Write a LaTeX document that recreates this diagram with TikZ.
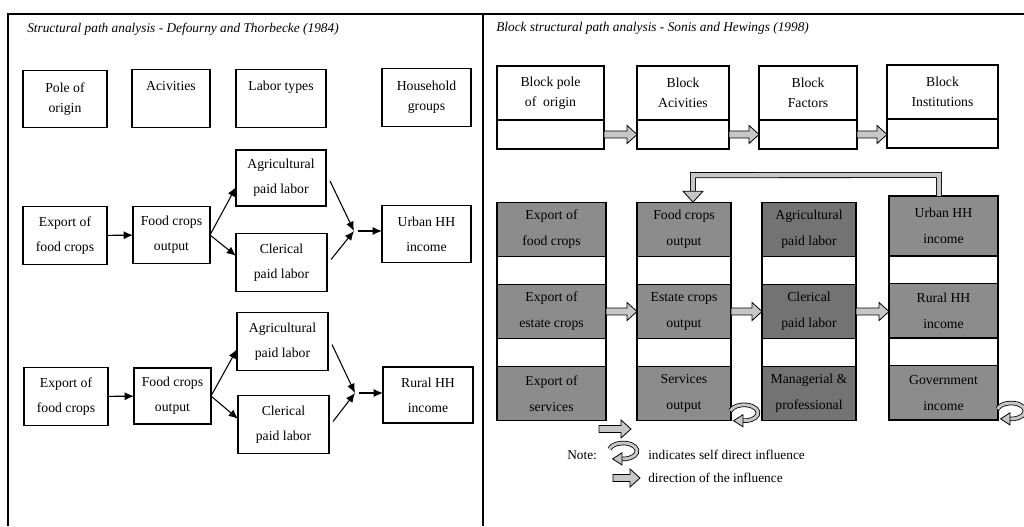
\documentclass[tikz,border=0pt]{standalone}
\usepackage{fontspec}
\setmainfont{Liberation Serif}
\usetikzlibrary{arrows.meta,positioning,calc}

\colorlet{cellgray}{black!45}
\colorlet{celldark}{black!55}
\colorlet{arrowgray}{black!22}

% hollow block arrow, left to right
\newcommand\blockarrow[2]{%
  \filldraw[hollow] let \p1=(#1), \p2=(#2) in
    (\x1,\y1+2.6pt) -- (\x2-7.5pt,\y1+2.6pt) -- (\x2-7.5pt,\y1+6.8pt) -- (\x2,\y1)
    -- (\x2-7.5pt,\y1-6.8pt) -- (\x2-7.5pt,\y1-2.6pt) -- (\x1,\y1-2.6pt) -- cycle;}
% self influence loop round a point
\newcommand\loopmark[1]{%
  \draw[hollowline] ($(#1)+(165:10.5pt and 6pt)$) arc[start angle=165, end angle=-100, x radius=10.5pt, y radius=6pt];
  \filldraw[hollow] ($(#1)+(-100:10.5pt and 6pt)+(1pt,4.5pt)$) -- ++(0,-9pt) -- ++(-7pt,4.5pt) -- cycle;}

\begin{document}
\begin{tikzpicture}[x=0.75pt, y=-0.75pt,
    box/.style={draw, line width=0.8pt, align=center, inner sep=0pt, outer sep=0pt,
      minimum height=43pt, font=\fontsize{10.3}{19}\selectfont},
    hbox/.style={box, font=\fontsize{10.3}{15}\selectfont},
    arr/.style={line width=0.8pt, -{Latex[length=7pt,width=6pt]}},
    blk/.style={draw, line width=0.8pt, align=center, inner sep=0pt, outer sep=0pt,
      minimum height=40.5pt, font=\fontsize{10.3}{15}\selectfont},
    blklow/.style={draw, line width=0.8pt, inner sep=0pt, outer sep=0pt, minimum height=21.75pt},
    cell/.style={draw, line width=0.8pt, fill=cellgray, align=center, inner sep=0pt, outer sep=0pt,
      minimum height=41pt, font=\fontsize{10.3}{19.5}\selectfont},
    gapcell/.style={draw, line width=0.8pt, fill=white, inner sep=0pt, outer sep=0pt, minimum height=20.5pt},
    hollow/.style={fill=arrowgray, draw, line width=0.6pt, line join=miter},
    hollowline/.style={draw, line width=0.6pt, double=arrowgray, double distance=2.2pt},
    fbline/.style={draw, line width=0.6pt, double=arrowgray, double distance=3.2pt, line join=miter},
    frame/.style={line width=0.9pt}]
  \useasboundingbox (0,0) rectangle (1024,526);

  % frame
  \draw[frame] (8,526) -- (8,14) -- (1024,14);
  \draw[frame] (483,14) -- (483,526);

  % left: structural path analysis
  \node[anchor=west, inner sep=0pt, font=\itshape] (ltitle) at (27,29) {Structural path analysis - Defourny and Thorbecke (1984)};

  \node[hbox, minimum width=63pt] (pole) at (65,99) {Pole of\\origin};
  \node[hbox, minimum width=58.5pt] (acti) at (171,98.5) {Acivities\\\strut};
  \node[hbox, minimum width=67.5pt] (labt) at (281,98.5) {Labor types\\\strut};
  \node[hbox, minimum width=66.75pt] (hhg) at (426.5,97.5) {Household\\groups};

  \node[box, minimum width=63pt] (exp1) at (65,235.5) {Export of\\food crops};
  \node[box, minimum width=57.75pt] (food1) at (171.5,235) {Food crops\\output};
  \node[box, minimum width=67.5pt, minimum height=42pt] (agri1) at (281,178) {Agricultural\\paid labor};
  \node[box, minimum width=68.25pt] (cler1) at (281.5,262.5) {Clerical\\paid labor};
  \node[box, minimum width=66.75pt] (urb) at (426.5,234) {Urban HH\\income};
  \coordinate (mg1) at (354,231);

  \node[box, minimum width=68.25pt] (agri2) at (282.5,341.5) {Agricultural\\paid labor};
  \node[box, minimum width=63pt] (exp2) at (66,396.5) {Export of\\food crops};
  \node[box, minimum width=57.75pt, minimum height=42pt] (food2) at (172.5,396) {Food crops\\output};
  \node[box, minimum width=68.25pt] (cler2) at (283.5,424.5) {Clerical\\paid labor};
  \node[box, minimum width=67.5pt, minimum height=42pt] (rur) at (428,395) {Rural HH\\income};
  \coordinate (mg2) at (355,393);

  \draw[arr] (exp1) -- (food1);
  \draw[arr] (food1.east) -- ($(agri1.south west)+(0,-19)$);
  \draw[arr] (food1.east) -- ($(cler1.north west)+(0,22)$);
  \draw[arr] ($(agri1.east)+(4,3)$) -- (mg1);
  \draw[arr] ($(cler1.east)+(4,-3)$) -- (mg1);
  \draw[arr] ($(mg1)+(4,0)$) -- (mg1 -| urb.west);

  \draw[arr] (exp2) -- (food2);
  \draw[arr] (food2.east) -- ($(agri2.south west)+(0,-21)$);
  \draw[arr] (food2.east) -- ($(cler2.north west)+(0,23)$);
  \draw[arr] ($(agri2.east)+(4,3)$) -- (mg2);
  \draw[arr] ($(cler2.east)+(4,-3)$) -- (mg2);
  \draw[arr] ($(mg2)+(4,0)$) -- (mg2 -| rur.west);

  % right: block structural path analysis
  \node[anchor=west, inner sep=0pt, font=\itshape] (rtitle) at (496,28) {Block structural path analysis - Sonis and Hewings (1998)};

  \node[blk, minimum width=80.25pt] (bpo) at (550.5,93) {Block pole\\of\ \ origin};
  \node[blklow, minimum width=80.25pt, below=0pt of bpo] (bpo2) {};
  \node[blk, minimum width=69pt] (bac) at (683,93) {Block\\Acivities};
  \node[blklow, minimum width=69pt, below=0pt of bac] (bac2) {};
  \node[blk, minimum width=73.5pt] (bfa) at (808,93) {Block\\Factors};
  \node[blklow, minimum width=73.5pt, below=0pt of bfa] (bfa2) {};
  \node[blk, minimum width=83.25pt] (bin) at (942.5,92) {Block\\Institutions};
  \node[blklow, minimum width=83.25pt, below=0pt of bin] (bin2) {};

  \blockarrow{bpo2.east}{bac2.west}
  \blockarrow{bac2.east}{bfa2.west}
  \blockarrow{bfa2.east}{bin2.west}

  % column 1
  \node[cell, minimum width=81.75pt] (efood) at (551.5,229.5) {Export of\\food crops};
  \node[gapcell, minimum width=81.75pt, below=0pt of efood] (egap1) {};
  \node[cell, minimum width=81.75pt, below=0pt of egap1] (eestate) {Export of\\estate crops};
  \node[gapcell, minimum width=81.75pt, below=0pt of eestate] (egap2) {};
  \node[cell, minimum width=81.75pt, below=0pt of egap2] (eserv) {Export of\\services};
  % column 2
  \node[cell, minimum width=70.5pt] (ofood) at (684,229.5) {Food crops\\output};
  \node[gapcell, minimum width=70.5pt, below=0pt of ofood] (ogap1) {};
  \node[cell, minimum width=70.5pt, below=0pt of ogap1] (oestate) {Estate crops\\output};
  \node[gapcell, minimum width=70.5pt, below=0pt of oestate] (ogap2) {};
  \node[cell, minimum width=70.5pt, below=0pt of ogap2] (oserv) {Services\\output};
  % column 3
  \node[cell, fill=celldark, minimum width=70.5pt] (fagri) at (809,229.5) {Agricultural\\paid labor};
  \node[gapcell, minimum width=70.5pt, below=0pt of fagri] (fgap1) {};
  \node[cell, fill=celldark, minimum width=70.5pt, below=0pt of fgap1] (fcler) {Clerical\\paid labor};
  \node[gapcell, minimum width=70.5pt, below=0pt of fcler] (fgap2) {};
  \node[cell, fill=celldark, minimum width=70.5pt, below=0pt of fgap2] (fman) {Managerial \&\\professional};
  % column 4
  \node[cell, minimum width=81.75pt, minimum height=45pt] (iurb) at (943.5,226) {Urban HH\\income};
  \node[gapcell, minimum width=81.75pt, below=0pt of iurb] (igap1) {};
  \node[cell, minimum width=81.75pt, below=0pt of igap1] (irur) {Rural HH\\income};
  \node[gapcell, minimum width=81.75pt, below=0pt of irur] (igap2) {};
  \node[cell, minimum width=81.75pt, below=0pt of igap2] (igov) {Government\\income};

  \blockarrow{eestate.east}{oestate.west}
  \blockarrow{oestate.east}{fcler.west}
  \blockarrow{fcler.east}{irur.west}

  % feedback from institutions to activities
  \coordinate (fbR) at ($(iurb.north)+(-4.5,-21)$);
  \coordinate (fbL) at ($(ofood.north)+(9,-27)$);
  \coordinate (fbD) at ($(ofood.north)+(9,-11)$);
  \draw[fbline] ($(iurb.north)+(-4.5,0)$) -- (fbR) -- (fbL) -- (fbD);
  \filldraw[hollow] ($(fbD)+(-10,0)$) -- ($(fbD)+(10,0)$) -- ($(ofood.north)+(9,0)$) -- cycle;

  % self loops
  \coordinate (lp1) at ($(oserv.south east)+(13,-8)$);
  \coordinate (lp2) at ($(igov.south east)+(13,-9)$);
  \loopmark{lp1}
  \loopmark{lp2}

  \coordinate (fa1) at (599,429);
  \coordinate (fa2) at (631,429);
  \blockarrow{fa1}{fa2}

  % note
  \node[anchor=west, inner sep=0pt] (note) at (567,455) {Note:};
  \coordinate (lp3) at (623,451);
  \loopmark{lp3}
  \node[anchor=west, inner sep=0pt] (lself) at (648,455) {indicates self direct influence};
  \coordinate (la1) at (613,478);
  \coordinate (la2) at (640,478);
  \blockarrow{la1}{la2}
  \node[anchor=west, inner sep=0pt] (ldir) at (648,478) {direction of the influence};
\end{tikzpicture}
\end{document}
